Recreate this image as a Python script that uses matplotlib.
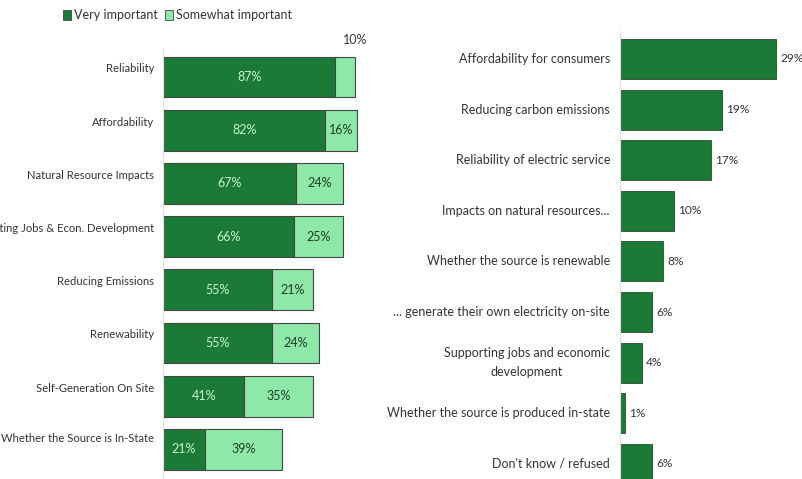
import numpy as np
from matplotlib import pyplot as plt
from matplotlib.patches import Patch

plt.rcParams['font.family'] = ['Lato', 'DejaVu Sans']

# left chart: importance of each factor
left_cats = ["Reliability", "Affordability", "Natural Resource Impacts",
             "Supporting Jobs & Econ. Development", "Reducing Emissions",
             "Renewability", "Self-Generation On Site", "Whether the Source is In-State"]
very = [87, 82, 67, 66, 55, 55, 41, 21]
somewhat = [10, 16, 24, 25, 21, 24, 35, 39]

# right chart: most important factor
right_cats = ["Affordability for consumers", "Reducing carbon emissions",
              "Reliability of electric service", "Impacts on natural resources...",
              "Whether the source is renewable", "... generate their own electricity on-site",
              "Supporting jobs and economic\ndevelopment",
              "Whether the source is produced in-state", "Don't know / refused"]
right_vals = [29, 19, 17, 10, 8, 6, 4, 1, 6]

DARK = "#1b7a36"
LIGHT = "#8ee9a9"
EDGE = "#444444"
TXT = "#333333"
FS = 9

W, H = 802, 479
fig = plt.figure(figsize=(W / 100, H / 100), dpi=100)

# ---- left chart ----
axl = fig.add_axes([163 / W, 0, 239 / W, 1])
yl = np.arange(len(left_cats))
axl.barh(yl, very, height=0.77, color=DARK, edgecolor=EDGE, linewidth=0.8)
axl.barh(yl, somewhat, left=very, height=0.77, color=LIGHT, edgecolor=EDGE, linewidth=0.8)
axl.set_xlim(0, 239 / 1.98)
axl.set_ylim((H - 77) / 53.2, -77 / 53.2)
for s in ["top", "right", "bottom"]:
    axl.spines[s].set_visible(False)
axl.spines["left"].set_color("#e0e0e0")
axl.spines["left"].set_bounds(-0.55, len(left_cats) - 0.45)
axl.set_xticks([])
axl.set_yticks([])

for i, (cat, v, s) in enumerate(zip(left_cats, very, somewhat)):
    up = 11 if i == len(left_cats) - 1 else 8
    axl.annotate(cat, xy=(0, i), xytext=(-9, up), textcoords="offset pixels",
                 ha="right", va="center", fontsize=8.1, color=TXT, annotation_clip=False)
    axl.text(v / 2, i, f"{v}%", ha="center", va="center", fontsize=FS, color="#c8f5d2")
    if s < 12:
        axl.annotate(f"{s}%", xy=(v + s, i), xytext=(0, 37), textcoords="offset pixels",
                     ha="center", va="center", fontsize=FS, color=TXT)
    else:
        axl.text(v + s / 2, i, f"{s}%", ha="center", va="center", fontsize=FS, color="#1d3d26")

fig.legend(handles=[Patch(facecolor=DARK, edgecolor=EDGE, linewidth=0.6),
                    Patch(facecolor=LIGHT, edgecolor=EDGE, linewidth=0.6)],
           labels=["Very important", "Somewhat important"], ncol=2, frameon=False,
           loc="center left", bbox_to_anchor=(52 / W, 1 - 15 / H), fontsize=FS,
           handlelength=0.6, handleheight=0.9, handletextpad=0.25, columnspacing=0.6,
           labelcolor=TXT)

# ---- right chart ----
axr = fig.add_axes([620 / W, 0, 182 / W, 1])
yr = np.arange(len(right_cats))
axr.barh(yr, right_vals, height=0.79, color=DARK, edgecolor="#2a4a30", linewidth=0.6)
axr.set_xlim(0, 182 / 5.38)
axr.set_ylim((H - 59) / 50.6, -59 / 50.6)
for s in ["top", "right", "bottom"]:
    axr.spines[s].set_visible(False)
axr.spines["left"].set_color("#e0e0e0")
axr.spines["left"].set_bounds(-0.55, len(right_cats))
axr.set_xticks([])
axr.set_yticks([])

for i, (cat, v) in enumerate(zip(right_cats, right_vals)):
    axr.annotate(cat, xy=(0, i), xytext=(-10, 0), textcoords="offset pixels",
                 ha="right", va="center", fontsize=FS, color=TXT, linespacing=1.7,
                 multialignment="center", annotation_clip=False)
    axr.annotate(f"{v}%", xy=(v, i), xytext=(4, 0), textcoords="offset pixels",
                 ha="left", va="center", fontsize=8.6, color=TXT)

fig.savefig("out.png", dpi=100)
